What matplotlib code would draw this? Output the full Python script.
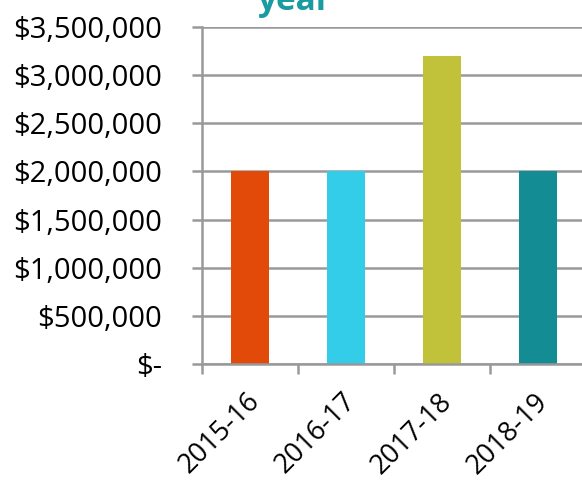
import matplotlib
matplotlib.use("Agg")
import matplotlib.pyplot as plt
import matplotlib.transforms as mtransforms
from matplotlib.ticker import FuncFormatter

categories = ["2015-16", "2016-17", "2017-18", "2018-19"]
values = [2000000, 2000000, 3200000, 2000000]
colors = ["#E24A0A", "#33CDE9", "#C2C13A", "#138C94"]
title_text = "year"

plt.rcParams['font.family'] = ['Open Sans', 'DejaVu Sans']

fig = plt.figure(figsize=(5.82, 4.87), dpi=100)
ax = fig.add_axes([202/582, 123/487, 384/582, 337/487])

x = list(range(len(categories)))
ax.bar(x, values, width=0.4, color=colors, zorder=3)
ax.set_xlim(-0.5, 3.5)
ax.set_ylim(0, 3500000)
ax.set_yticks(range(0, 3500001, 500000))

def fmt(v, pos):
    if v == 0:
        return "$-"
    return "${:,.0f}".format(v)
ax.yaxis.set_major_formatter(FuncFormatter(fmt))

ax.grid(axis='y', color='#999999', linewidth=1.8, zorder=0)
for s in ['top', 'right', 'bottom']:
    ax.spines[s].set_visible(False)
ax.spines['left'].set_color('#999999')
ax.spines['left'].set_linewidth(1.8)

ax.tick_params(axis='y', length=7, width=1.8, color='#999999', pad=22, labelsize=21)
ax.set_xticks([i - 0.5 for i in x] + [3.5])
ax.set_xticklabels([])
ax.set_xticks(x, minor=True)
ax.set_xticklabels(categories, minor=True, rotation=45, ha='right', rotation_mode='anchor', fontsize=19.5)
ax.tick_params(axis='x', which='major', length=7, width=1.8, color='#999999')
ax.tick_params(axis='x', which='minor', length=0, pad=17)
offset = mtransforms.ScaledTranslation(-4/100, 0, fig.dpi_scale_trans)
for lab in ax.get_xticklabels(minor=True):
    lab.set_transform(lab.get_transform() + offset)
ax.axhline(0, color='#999999', linewidth=1.8, zorder=4, clip_on=False)

fig.text(0.505, 1 - 10/487, title_text, color='#1A9BA1', fontsize=24, fontweight='bold',
         ha='center', va='baseline')

fig.savefig("out.png", dpi=100)
